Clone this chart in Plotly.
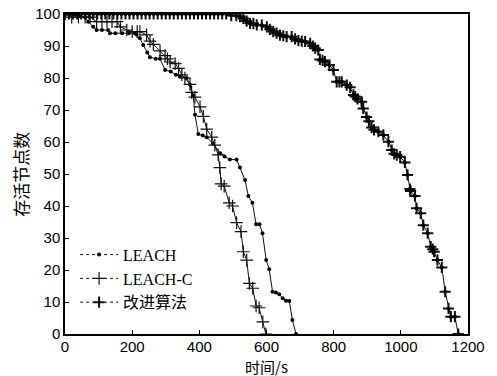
import plotly.graph_objects as go

# ---- data ----
leach_x = [0, 15, 30, 45, 60, 69, 84, 94, 110, 128, 134, 150, 170, 190, 208, 213, 223, 233, 245, 253, 270, 283, 298, 315, 330, 342, 362, 372, 382, 387, 397, 410, 422, 441, 462, 475, 491, 511, 521, 536, 546, 558, 569, 579, 588, 599, 608, 618, 628, 638, 648, 658, 668, 677, 688]
leach_y = [100, 100, 100, 99.5, 99, 97.6, 96, 95, 95, 95, 94, 94, 94, 94, 94, 93.6, 92.4, 90.3, 88, 86.5, 86, 86, 82.5, 82, 81, 80.5, 80, 78, 74.5, 68.5, 62.5, 62, 61.5, 59.5, 56.5, 55.5, 54.5, 54.5, 52, 48.1, 43.1, 41, 34.3, 34.3, 31.5, 23.1, 20.2, 13.2, 13, 12.4, 11.2, 10.4, 10.3, 4.4, 0]

leachc_x = [0, 20, 40, 60, 75, 94, 110, 125, 140, 155, 165, 184, 200, 215, 223, 243, 253, 263, 283, 298, 305, 313, 328, 338, 348, 357, 372, 377, 387, 402, 412, 422, 437, 446, 456, 461, 465, 474, 489, 499, 511, 524, 531, 541, 549, 559, 569, 578, 589, 598]
leachc_y = [100, 99, 99, 99, 99, 97.6, 97.6, 97.6, 97.6, 97.6, 96, 95, 94.5, 94.5, 94.5, 93.5, 91.5, 90.5, 88.5, 87, 86, 85, 84.5, 83, 81, 80, 78, 75.5, 74, 71, 68, 64, 61.5, 59, 56, 52, 46.9, 46.2, 41, 40, 34.8, 32, 25.7, 23.1, 15.8, 14.3, 8.75, 8.2, 3.8, 0]

improved_x = [0, 12, 24, 36, 48, 60, 72, 84, 96, 108, 120, 132, 144, 156, 168, 180, 192, 204, 216, 228, 240, 252, 264, 276, 288, 300, 312, 324, 336, 348, 360, 372, 384, 396, 408, 420, 432, 444, 456, 468, 480,
              495, 510, 521, 531, 541, 551, 561, 571, 586, 601, 610, 620, 630, 640, 650, 660, 675, 685, 695, 705, 715, 730, 738, 745, 754, 759, 767, 774, 787, 799, 809, 817, 824, 839, 849, 859, 864, 871, 883, 888, 898, 905, 913, 920, 933, 948, 963, 973, 980, 988, 998, 1012, 1020, 1027, 1029, 1042, 1047, 1059, 1067, 1080, 1089, 1095, 1099, 1109, 1122, 1132, 1142, 1149, 1161, 1171]
improved_y = [100, 100, 100, 100, 100, 100, 100, 100, 100, 100, 100, 100, 100, 100, 100, 100, 100, 100, 100, 100, 100, 100, 100, 100, 100, 100, 100, 100, 100, 100, 100, 100, 100, 100, 100, 100, 100, 100, 100, 100, 100,
              99.5, 99.5, 99.2, 98.6, 97.8, 97.1, 97, 96.6, 96.5, 96, 95.2, 94.5, 94, 93.4, 93.2, 92.9, 92.9, 92.2, 91.7, 91.5, 91.4, 90.8, 90, 89.3, 88.75, 85.8, 85.5, 85.1, 84.1, 82.5, 78.8, 78.8, 78.8, 77.8, 77.1, 74.7, 74.2, 73.5, 72.6, 70.5, 67.8, 66.5, 64.5, 63.8, 63.2, 62.2, 60.1, 57.5, 56.3, 55.9, 55.4, 53.6, 49.7, 45.3, 44.7, 43.1, 39.3, 37.7, 34, 31.5, 27.3, 26.5, 25.7, 23.1, 20.8, 13.2, 8, 5.4, 5.4, 0]

names = ["LEACH", "LEACH-C", "改进算法"]
x_title = "时间/s"
y_title = "存活节点数"

fig = go.Figure()
LC = "#111111"

leach_marker = dict(symbol="circle", size=4, color="black")
leachc_marker = dict(symbol="cross-thin-open", size=9, line=dict(color="black", width=1.2))
improved_marker = dict(symbol="cross-thin-open", size=8, line=dict(color="black", width=2))

# data traces
fig.add_trace(go.Scatter(x=leach_x, y=leach_y, mode="lines+markers", showlegend=False,
                         line=dict(color=LC, width=1), marker=leach_marker))
fig.add_trace(go.Scatter(x=leachc_x, y=leachc_y, mode="lines+markers", showlegend=False,
                         line=dict(color=LC, width=1), marker=leachc_marker))
fig.add_trace(go.Scatter(x=improved_x, y=improved_y, mode="lines+markers", showlegend=False,
                         line=dict(color=LC, width=1), marker=improved_marker))
fig.add_trace(go.Scatter(x=improved_x, y=improved_y, mode="markers", showlegend=False,
                         marker=dict(symbol="circle", size=4, color="black")))

# legend entries (dotted lines)
for nm, mk in zip(names, [leach_marker, leachc_marker, improved_marker]):
    fig.add_trace(go.Scatter(x=[None], y=[None], mode="lines+markers", name=nm,
                             line=dict(color=LC, width=1, dash="dot"), marker=mk))

axis_common = dict(showline=True, mirror=True, linecolor="black", linewidth=1.5,
                   ticks="inside", ticklen=4, tickcolor="black", showgrid=False, zeroline=False,
                   automargin=False, ticklabeloverflow="allow",
                   tickfont=dict(family="Liberation Sans, Arial", size=15, color="black"))

fig.update_layout(
    width=497, height=376,
    margin=dict(l=65, r=29, t=14, b=42),
    paper_bgcolor="white", plot_bgcolor="white",
    xaxis=dict(range=[0, 1200], dtick=200, tick0=0, ticklabelstandoff=-2, **axis_common),
    yaxis=dict(range=[0, 100], dtick=10, tick0=0, **axis_common),
    legend=dict(x=0.025, y=0.301, xanchor="left", yanchor="top",
                bgcolor="rgba(0,0,0,0)", borderwidth=0, itemwidth=38,
                font=dict(family="Liberation Serif, Noto Sans CJK SC", size=16, color="black"),
                tracegroupgap=0),
    annotations=[
        dict(text=x_title, xref="paper", yref="paper", x=0.5, y=-0.103, xanchor="center", yanchor="middle",
             showarrow=False, font=dict(family="Noto Sans CJK SC", size=15, color="black")),
        dict(text=y_title, xref="paper", yref="paper", x=-0.112, y=0.5, xanchor="center", yanchor="middle",
             textangle=-90, showarrow=False, font=dict(family="Noto Sans CJK SC", size=17, color="black")),
    ],
)

# remove the browser's default 8px body margin so the figure fills the window exactly
fig.write_html("out.html", config={"displayModeBar": False},
               post_script="document.body.style.margin='0';")
